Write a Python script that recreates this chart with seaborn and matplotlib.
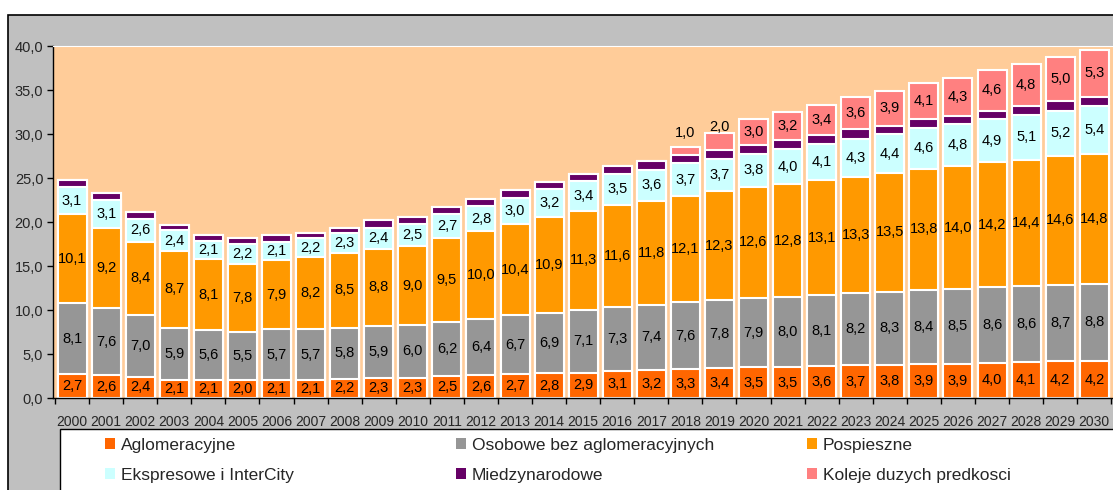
import numpy as np
import pandas as pd
import matplotlib
matplotlib.use("Agg")
from matplotlib import pyplot as plt
from matplotlib.patches import Rectangle, Patch
import seaborn as sns

# dane (mln pasazerow / rok)
years = [str(y) for y in range(2000, 2031)]
aglomeracyjne = [2.7, 2.6, 2.4, 2.1, 2.1, 2.0, 2.1, 2.1, 2.2, 2.3, 2.3, 2.5, 2.6, 2.7, 2.8, 2.9,
                 3.1, 3.2, 3.3, 3.4, 3.5, 3.5, 3.6, 3.7, 3.8, 3.9, 3.9, 4.0, 4.1, 4.2, 4.2]
osobowe = [8.1, 7.6, 7.0, 5.9, 5.6, 5.5, 5.7, 5.7, 5.8, 5.9, 6.0, 6.2, 6.4, 6.7, 6.9, 7.1,
           7.3, 7.4, 7.6, 7.8, 7.9, 8.0, 8.1, 8.2, 8.3, 8.4, 8.5, 8.6, 8.6, 8.7, 8.8]
pospieszne = [10.1, 9.2, 8.4, 8.7, 8.1, 7.8, 7.9, 8.2, 8.5, 8.8, 9.0, 9.5, 10.0, 10.4, 10.9, 11.3,
              11.6, 11.8, 12.1, 12.3, 12.6, 12.8, 13.1, 13.3, 13.5, 13.8, 14.0, 14.2, 14.4, 14.6, 14.8]
ekspresowe = [3.1, 3.1, 2.6, 2.4, 2.1, 2.2, 2.1, 2.2, 2.3, 2.4, 2.5, 2.7, 2.8, 3.0, 3.2, 3.4,
              3.5, 3.6, 3.7, 3.7, 3.8, 4.0, 4.1, 4.3, 4.4, 4.6, 4.8, 4.9, 5.1, 5.2, 5.4]
miedzynarodowe = [0.8, 0.8, 0.8, 0.6, 0.6, 0.7, 0.7, 0.6, 0.6, 0.8, 0.8, 0.8, 0.8, 0.9, 0.8, 0.8,
                  0.9, 1.0, 0.9, 1.0, 1.0, 1.1, 1.0, 1.1, 1.0, 1.1, 0.9, 1.0, 1.0, 1.1, 1.1]
kdp = [0, 0, 0, 0, 0, 0, 0, 0, 0, 0, 0, 0, 0, 0, 0, 0,
       0, 0, 1.0, 2.0, 3.0, 3.2, 3.4, 3.6, 3.9, 4.1, 4.3, 4.6, 4.8, 5.0, 5.3]

series_names = ['Aglomeracyjne', 'Osobowe bez aglomeracyjnych', 'Pospieszne',
                'Ekspresowe i InterCity', 'Miedzynarodowe', 'Koleje duzych predkosci']
colors = ['#FF6600', '#969696', '#FF9900', '#CCFFFF', '#660066', '#FF8080']

df = pd.DataFrame({'rok': years,
                   series_names[0]: aglomeracyjne,
                   series_names[1]: osobowe,
                   series_names[2]: pospieszne,
                   series_names[3]: ekspresowe,
                   series_names[4]: miedzynarodowe,
                   series_names[5]: kdp})
cum = df[series_names].cumsum(axis=1)

sns.set_style('ticks')
plt.rcParams['font.family'] = ['Liberation Sans', 'DejaVu Sans']
narrow = ['Liberation Sans Narrow', 'Liberation Sans', 'DejaVu Sans']

W, H = 1113, 490
fig = plt.figure(figsize=(W / 100, H / 100), dpi=100)
fig.patch.set_facecolor('white')
# szare tlo wykresu + ramka
fig.patches.append(Rectangle((8 / W, -0.1), 1.2, (H - 15) / H + 0.1, transform=fig.transFigure,
                             facecolor='#C0C0C0', edgecolor='black', linewidth=1.2, zorder=-2))
# pole legendy
fig.patches.append(Rectangle((60 / W, -0.1), 1.2, (H - 429) / H + 0.1, transform=fig.transFigure,
                             facecolor='white', edgecolor='black', linewidth=1.0, zorder=-1))

ax = fig.add_axes([53 / W, (H - 398) / H, 1060 / W, (398 - 46.5) / H])
ax.set_facecolor('#FFCC99')

# slupki skumulowane - od najwyzszego do najnizszego
for i in range(len(series_names) - 1, -1, -1):
    sns.barplot(x=df['rok'], y=cum[series_names[i]], order=years, color=colors[i],
                saturation=1, width=0.85, edgecolor='white', linewidth=1.5, ax=ax)

# etykiety wartosci
for i in [0, 1, 2, 3, 5]:
    name = series_names[i]
    for j in range(len(years)):
        v = df[name][j]
        if v <= 0:
            continue
        top = cum[name][j]
        y = top - v / 2
        if i == 5 and v < 1.5:
            y = top + 1.5
        elif i == 5 and v < 2.5:
            y = top + 0.6
        ax.text(j, y, f'{v:.1f}'.replace('.', ','), ha='center', va='center',
                fontsize=10.5, family=narrow, color='black')

ax.set_xlim(-0.56, 30.55)
ax.set_ylim(0, 40)
ax.set_xlabel('')
ax.set_ylabel('')
ax.set_yticks(np.arange(0, 41, 5))
ax.set_yticklabels([f'{t:.1f}'.replace('.', ',') for t in np.arange(0, 41, 5)], fontsize=10.5)
ax.set_xticks(range(len(years)))
ax.set_xticklabels(years, family=narrow, fontsize=10)
ax.set_xticks(np.arange(-0.5, 31, 1), minor=True)
ax.tick_params(axis='x', which='major', length=0, pad=12.5)
ax.tick_params(axis='x', which='minor', length=4, width=1, color='black', direction='out')
ax.tick_params(axis='y', length=4, width=1, color='black', direction='out', pad=3)
for s in ['left', 'bottom']:
    ax.spines[s].set_color('black')
    ax.spines[s].set_linewidth(1)
ax.spines['top'].set_color('white')
ax.spines['right'].set_visible(False)

# legenda - trzy kolumny
xs = [105, 456, 807]
for c in range(3):
    idx = [c, c + 3]
    handles = [Patch(facecolor=colors[k], edgecolor='none') for k in idx]
    leg = fig.legend(handles, [series_names[k] for k in idx], loc='upper left',
                     bbox_to_anchor=(xs[c] / W, (H - 438) / H), frameon=False,
                     fontsize=12.5, handlelength=0.6, handleheight=0.6, handletextpad=0.3,
                     labelspacing=0.85, borderpad=0, borderaxespad=0)

fig.savefig('out.png', dpi=100)
